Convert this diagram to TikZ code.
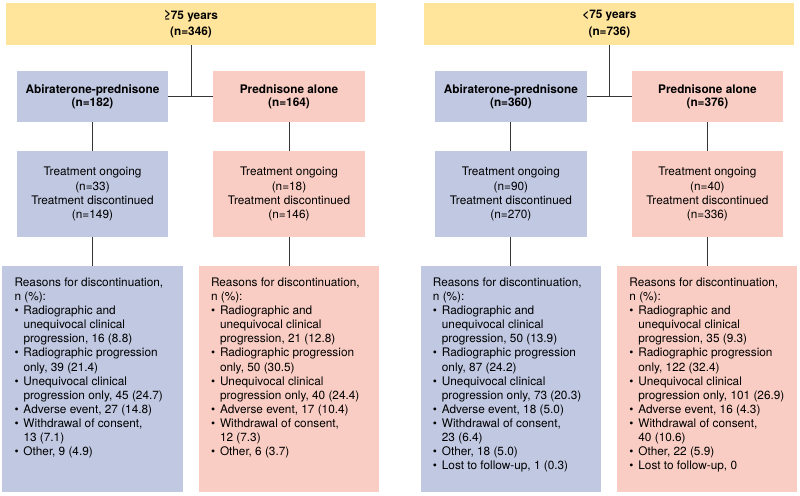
\documentclass[tikz,border=0pt]{standalone}
\usepackage{fontspec}
\setmainfont{TeX Gyre Heros}
\definecolor{agebox}{HTML}{FFE49C}
\definecolor{abibox}{HTML}{C0C8E2}
\definecolor{predbox}{HTML}{F9CDC3}
\definecolor{linkgray}{HTML}{363636}
\newcommand{\bul}{\makebox[0.225cm][l]{\textbullet}}
\newcommand{\ind}{\hspace*{0.225cm}}
\begin{document}
\begin{tikzpicture}[
  every node/.style={font=\fontsize{8.4}{10}\selectfont},
  agenode/.style={fill=agebox,minimum width=9.25cm,minimum height=1.05cm,align=center,
    font=\bfseries\fontsize{8.4}{11.5}\selectfont},
  armnode/.style={minimum width=3.78cm,minimum height=1.275cm,align=center,
    font=\bfseries\fontsize{8.4}{9}\selectfont},
  statnode/.style={minimum width=3.78cm,minimum height=2.15cm,align=center},
  reasonnode/.style={minimum width=4.5cm,minimum height=5.65cm,inner xsep=0.3cm,inner ysep=0.3cm},
  link/.style={draw=linkgray,line width=0.7pt}
]
\useasboundingbox (0,0) rectangle (20,-12.375);

% 75 years and older
\begin{scope}[shift={(0,0)}]
\node[agenode] (o-age) at (4.775,-0.6) {≥75 years\\(n=346)};
\node[armnode,fill=abibox] (o-abi) at (2.3125,-2.4125) {Abiraterone-prednisone\\(n=182)};
\node[armnode,fill=predbox] (o-pred) at (7.225,-2.4125) {Prednisone alone\\(n=164)};
\node[statnode,fill=abibox] (o-abi-st) at (2.3125,-4.85)
  {Treatment ongoing\\(n=33)\\Treatment discontinued\\(n=149)};
\node[statnode,fill=predbox] (o-pred-st) at (7.225,-4.85)
  {Treatment ongoing\\(n=18)\\Treatment discontinued\\(n=146)};
\node[reasonnode,fill=abibox] (o-abi-rs) at (2.3125,-9.475) {\parbox[c][5.05cm][t]{3.9cm}{\raggedright
  Reasons for discontinuation,\\n (\%):\\
  \bul Radiographic and\\\ind unequivocal clinical\\\ind progression, 16 (8.8)\\
  \bul Radiographic progression\\\ind only, 39 (21.4)\\
  \bul Unequivocal clinical\\\ind progression only, 45 (24.7)\\
  \bul Adverse event, 27 (14.8)\\
  \bul Withdrawal of consent,\\\ind 13 (7.1)\\
  \bul Other, 9 (4.9)}};
\node[reasonnode,fill=predbox] (o-pred-rs) at (7.225,-9.475) {\parbox[c][5.05cm][t]{3.9cm}{\raggedright
  Reasons for discontinuation,\\n (\%):\\
  \bul Radiographic and\\\ind unequivocal clinical\\\ind progression, 21 (12.8)\\
  \bul Radiographic progression\\\ind only, 50 (30.5)\\
  \bul Unequivocal clinical\\\ind progression only, 40 (24.4)\\
  \bul Adverse event, 17 (10.4)\\
  \bul Withdrawal of consent,\\\ind 12 (7.3)\\
  \bul Other, 6 (3.7)}};
\draw[link] (o-age.south) -- (o-age.south |- o-abi.east);
\draw[link] (o-abi.east) -- (o-pred.west);
\foreach \a in {abi,pred}
  \draw[link] (o-\a.south) -- (o-\a-st.north) (o-\a-st.south) -- (o-\a-rs.north);
\end{scope}

% younger than 75 years
\begin{scope}[shift={(10.46,0)}]
\node[agenode] (y-age) at (4.775,-0.6) {<75 years\\(n=736)};
\node[armnode,fill=abibox] (y-abi) at (2.3125,-2.4125) {Abiraterone-prednisone\\(n=360)};
\node[armnode,fill=predbox] (y-pred) at (7.225,-2.4125) {Prednisone alone\\(n=376)};
\node[statnode,fill=abibox] (y-abi-st) at (2.3125,-4.85)
  {Treatment ongoing\\(n=90)\\Treatment discontinued\\(n=270)};
\node[statnode,fill=predbox] (y-pred-st) at (7.225,-4.85)
  {Treatment ongoing\\(n=40)\\Treatment discontinued\\(n=336)};
\node[reasonnode,fill=abibox] (y-abi-rs) at (2.3125,-9.475) {\parbox[c][5.05cm][t]{3.9cm}{\raggedright
  Reasons for discontinuation,\\n (\%):\\
  \bul Radiographic and\\\ind unequivocal clinical\\\ind progression, 50 (13.9)\\
  \bul Radiographic progression\\\ind only, 87 (24.2)\\
  \bul Unequivocal clinical\\\ind progression only, 73 (20.3)\\
  \bul Adverse event, 18 (5.0)\\
  \bul Withdrawal of consent,\\\ind 23 (6.4)\\
  \bul Other, 18 (5.0)\\
  \bul Lost to follow-up, 1 (0.3)}};
\node[reasonnode,fill=predbox] (y-pred-rs) at (7.225,-9.475) {\parbox[c][5.05cm][t]{3.9cm}{\raggedright
  Reasons for discontinuation,\\n (\%):\\
  \bul Radiographic and\\\ind unequivocal clinical\\\ind progression, 35 (9.3)\\
  \bul Radiographic progression\\\ind only, 122 (32.4)\\
  \bul Unequivocal clinical\\\ind progression only, 101 (26.9)\\
  \bul Adverse event, 16 (4.3)\\
  \bul Withdrawal of consent,\\\ind 40 (10.6)\\
  \bul Other, 22 (5.9)\\
  \bul Lost to follow-up, 0}};
\draw[link] (y-age.south) -- (y-age.south |- y-abi.east);
\draw[link] (y-abi.east) -- (y-pred.west);
\foreach \a in {abi,pred}
  \draw[link] (y-\a.south) -- (y-\a-st.north) (y-\a-st.south) -- (y-\a-rs.north);
\end{scope}
\end{tikzpicture}
\end{document}
